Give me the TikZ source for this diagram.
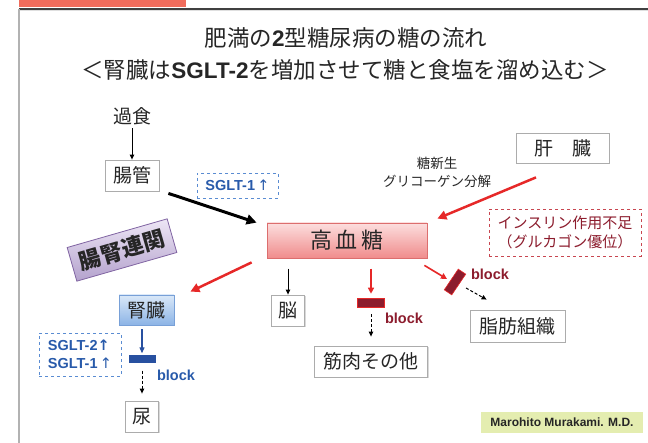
\documentclass[tikz,border=0pt]{standalone}
\usepackage{fontspec}
\setmainfont{Noto Sans CJK JP}
\newfontfamily\lat{Liberation Sans}
\newfontfamily\dv{DejaVu Sans}
\usetikzlibrary{arrows.meta,shadows}
\definecolor{salmon}{RGB}{240,108,92}
\definecolor{txt}{RGB}{38,38,38}
\definecolor{redarr}{RGB}{230,40,40}
\definecolor{dkred}{RGB}{140,28,45}
\definecolor{bluetxt}{RGB}{40,90,170}
\definecolor{bluedsh}{RGB}{90,140,210}
\definecolor{reddsh}{RGB}{200,70,80}
\definecolor{pinktop}{RGB}{252,222,222}
\definecolor{pinkbot}{RGB}{240,140,140}
\definecolor{pinkbrd}{RGB}{220,110,110}
\definecolor{bluetop}{RGB}{218,232,248}
\definecolor{bluebot}{RGB}{140,180,230}
\definecolor{bluebrd}{RGB}{120,160,215}
\definecolor{purtop}{RGB}{237,230,245}
\definecolor{purbot}{RGB}{180,162,205}
\definecolor{purbrd}{RGB}{128,100,162}
\definecolor{mgreen}{RGB}{228,237,176}
\definecolor{blkblue}{RGB}{40,80,160}
\begin{document}
\begin{tikzpicture}[x=1pt,y=-1pt,
  lbl/.style={text=txt,font=\fontsize{19}{22}\selectfont},
  gbox/.style={lbl,draw=gray!65,line width=0.8pt,fill=white,inner sep=0pt,
    drop shadow={shadow xshift=1.2pt,shadow yshift=-1.2pt,opacity=0.3}},
  pinkbox/.style={draw=pinkbrd,line width=0.8pt,top color=pinktop,bottom color=pinkbot,
    text=txt,font=\fontsize{22}{26}\selectfont,inner sep=0pt},
  bluebox/.style={lbl,draw=bluebrd,line width=0.8pt,top color=bluetop,bottom color=bluebot,inner sep=0pt},
  purbox/.style={draw=purbrd,line width=0.8pt,top color=purtop,bottom color=purbot,
    text=txt,font=\bfseries\fontsize{22}{26}\selectfont,inner sep=0pt},
  bluedash/.style={draw=bluedsh,dashed,line width=0.8pt,text=bluetxt,inner sep=0pt,
    font=\lat\bfseries\fontsize{14.5}{18}\selectfont},
  reddash/.style={draw=reddsh,dashed,line width=0.8pt,text=dkred,inner sep=0pt,
    font=\fontsize{15}{19}\selectfont},
  blocktxt/.style={font=\lat\bfseries\fontsize{14.5}{17}\selectfont},
  thinarrow/.style={-{Triangle[length=5pt,width=4.5pt]},line width=1pt,black},
  dasharrow/.style={-{Triangle[length=5pt,width=4.5pt]},line width=1pt,black,dash pattern=on 3pt off 2pt},
  redarrow/.style={-{Triangle[length=9pt,width=9pt]},line width=2.5pt,redarr},
  redthin/.style={-{Triangle[length=6pt,width=6pt]},line width=1.6pt,redarr},
  blackthick/.style={-{Triangle[length=10pt,width=10pt]},line width=3pt,black},
  bluethin/.style={-{Triangle[length=6pt,width=5pt]},line width=1.2pt,blkblue}]
\useasboundingbox (0,0) rectangle (648,443);
% frame
\fill[salmon] (19,0) rectangle (186,7);
\draw[gray!25,line width=1pt] (19,10.5) -- (648,10.5);
\draw[black!75,line width=1.5pt] (19,9) -- (648,9);
\draw[gray!60,line width=1.5pt] (19,9) -- (19,443);
% title
\node[text=txt,font=\fontsize{22.5}{26}\selectfont] (t1) at (346,38) {肥満の{\lat\bfseries 2}型糖尿病の糖の流れ};
\node[text=txt,font=\fontsize{22.5}{26}\selectfont] (t2) at (345,70) {＜腎臓は{\lat\bfseries SGLT-2}を増加させて糖と食塩を溜め込む＞};
% nodes
\node[lbl] (kashoku) at (132,116) {過食};
\node[gbox,minimum width=54,minimum height=31] (chokan) at (132,175.5) {腸管};
\node[bluedash,minimum width=81,minimum height=25] (sg1) at (237.5,185.5) {SGLT-1\,{\mdseries\dv ↑}};
\node[pinkbox,minimum width=160,minimum height=35] (kosui) at (347,240.5) {高\hspace{4pt}血\hspace{4pt}糖};
\node[gbox,minimum width=93,minimum height=30] (kanzo) at (562.5,148) {肝　臓};
\node[text=txt,font=\fontsize{13.5}{18}\selectfont,align=center] (tokan) at (437,172) {糖新生\\グリコーゲン分解};
\node[reddash,minimum width=152,minimum height=47,align=center] (ins) at (565,232.5) {インスリン作用不足\\（グルカゴン優位）};
\node[purbox,rotate=16,minimum width=104,minimum height=35] (chojin) at (122,250) {腸腎連関};
\node[bluebox,minimum width=55,minimum height=30] (jinzo) at (146.5,310) {腎臓};
\node[bluedash,minimum width=82,minimum height=43,align=left] (sg2) at (80,354.5) {SGLT-2{\dv\bfseries ↑}\\SGLT-1\,{\mdseries\dv ↑}};
\node[fill=blkblue,minimum width=27,minimum height=8,inner sep=0pt] (blk1) at (142,359.5) {};
\node[blocktxt,text=bluetxt] (b1) at (176,375) {block};
\node[gbox,minimum width=33,minimum height=31] (nyo) at (142,416.5) {尿};
\node[gbox,minimum width=33,minimum height=31] (nou) at (288,310.5) {脳};
\node[fill=dkred,draw=redarr,line width=0.6pt,minimum width=27,minimum height=9,inner sep=0pt] (blk2) at (371,302.5) {};
\node[blocktxt,text=dkred] (b2) at (404,318) {block};
\node[gbox,minimum width=113,minimum height=31] (kin) at (371,361.5) {筋肉その他};
\node[fill=dkred,draw=redarr,line width=0.6pt,minimum width=25,minimum height=9,inner sep=0pt,rotate=56] (blk3) at (455,282) {};
\node[blocktxt,text=dkred] (b3) at (490,274) {block};
\node[gbox,minimum width=95,minimum height=32] (shibo) at (517.5,326) {脂肪組織};
\node[fill=mgreen,minimum width=162,minimum height=21,inner sep=0pt,text=txt,font=\lat\bfseries\fontsize{12}{14}\selectfont] (sig) at (562,422.5) {Marohito Murakami. M.D.};
% connectors
\draw[thinarrow] (kashoku) -- (chokan);
\draw[blackthick] ([xshift=9pt,yshift=-2pt]chokan.south east) -- ([xshift=-10pt]kosui.north west);
\draw[redarrow] ([xshift=-26.5pt,yshift=-14pt]kanzo.south) -- ([xshift=10pt,yshift=4pt]kosui.north east);
\draw[redarrow] ([xshift=-15pt,yshift=-4pt]kosui.south west) -- ([xshift=16pt,yshift=3pt]jinzo.north east);
\draw[thinarrow] ([yshift=26pt]nou.north) -- (nou.north);
\draw[redthin] ([yshift=29pt]blk2.north) -- ([yshift=4pt]blk2.north);
\draw[dasharrow] ([yshift=-7pt]blk2.south) -- ([yshift=9pt]kin.north);
\draw[redthin] ([xshift=-3pt,yshift=-7pt]kosui.south east) -- ([xshift=-8pt,yshift=3pt]blk3.center);
\draw[dasharrow] ([xshift=11pt,yshift=-6pt]blk3.center) -- ([xshift=17pt,yshift=10pt]shibo.north west);
\draw[bluethin] ([xshift=-4.5pt,yshift=-4pt]jinzo.south) -- ([yshift=2pt]blk1.north);
\draw[dasharrow] ([yshift=-7pt]blk1.south) -- ([yshift=7pt]nyo.north);
\end{tikzpicture}
\end{document}
